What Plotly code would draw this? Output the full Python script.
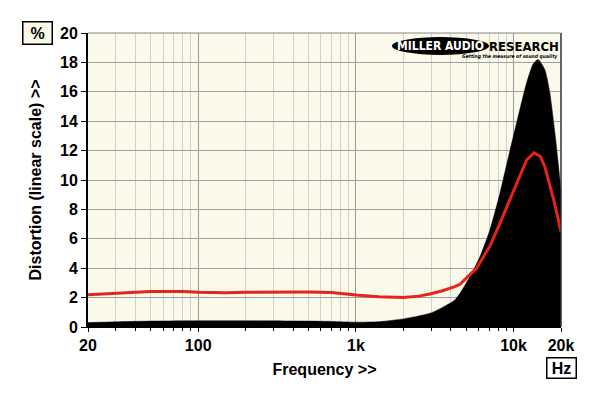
import plotly.graph_objects as go

# Data
freq_fill = [20, 30, 50, 100, 200, 500, 700, 1000, 1400, 2000, 2500, 2950, 3500, 4245,
             4570, 5285, 6122, 7080, 8200, 9490, 10970, 12100, 13330, 14300, 15800,
             17000, 18300, 20000]
dist_fill = [0.3, 0.35, 0.4, 0.42, 0.42, 0.4, 0.38, 0.33, 0.36, 0.55, 0.75, 0.93, 1.3, 1.84,
             2.29, 3.42, 4.78, 6.6, 9.1, 12.0, 14.8, 16.6, 17.9, 18.2, 17.5,
             15.9, 13.2, 9.3]

freq_red = [20, 30, 50, 80, 100, 150, 200, 500, 700, 1000, 1400, 2000, 2500, 2950, 3500,
            4245, 4570, 5830, 7080, 8200, 9490, 10970, 12100, 13500, 14800, 15800, 18000, 20000]
dist_red = [2.2, 2.3, 2.42, 2.42, 2.36, 2.33, 2.37, 2.38, 2.35, 2.18, 2.06, 2.0, 2.1, 2.24, 2.45,
            2.74, 2.9, 4.0, 5.5, 7.05, 8.64, 10.2, 11.36, 11.85, 11.6, 10.9, 8.64, 6.5]

x_major = [20, 100, 1000, 10000, 20000]
x_major_text = ["20", "100", "1k", "10k", "20k"]
x_minor = [30, 40, 50, 60, 70, 80, 90, 200, 300, 400, 500, 600, 700, 800, 900,
           2000, 3000, 4000, 5000, 6000, 7000, 8000, 9000]
y_ticks = [0, 2, 4, 6, 8, 10, 12, 14, 16, 18, 20]

FONT = "Liberation Sans, Arial, sans-serif"
LOGO_FONT = "DejaVu Sans Condensed, DejaVu Sans"
CREAM = "#fbf9e9"

# page body has an 8px margin: shift everything by -8 px
OFF = 8
L, R, T, B = 88 - OFF, 39, 33 - OFF, 69

fig = go.Figure()
fig.add_trace(go.Scatter(x=freq_fill, y=dist_fill, mode="lines", fill="tozeroy",
                         fillcolor="black", line=dict(color="black", width=0.5, shape="spline",
                                                      smoothing=0.6),
                         hoverinfo="skip", showlegend=False))
fig.add_trace(go.Scatter(x=freq_red, y=dist_red, mode="lines",
                         line=dict(color="#e8231a", width=3),
                         showlegend=False))

fig.update_layout(
    width=600 - OFF, height=396 - OFF,
    margin=dict(l=L, r=R, t=T, b=B, autoexpand=False),
    paper_bgcolor="white", plot_bgcolor=CREAM,
    font=dict(family=FONT, size=16, color="black"),
    xaxis=dict(type="log", range=[1.30103, 4.30103],
               tickvals=x_major, ticktext=x_major_text,
               tickfont=dict(family=FONT, size=16, color="black", weight="bold"),
               showgrid=True, gridcolor="#9a9a9a", gridwidth=1,
               ticks="outside", ticklen=4, tickcolor="black",
               minor=dict(tickvals=x_minor, showgrid=True, gridcolor="#d0d0cc",
                          ticks="outside", ticklen=3, tickcolor="black"),
               showline=True, linecolor="black", linewidth=1, mirror=False,
               zeroline=False, automargin=False,
               title=dict(text="<b>Frequency >></b>", font=dict(family=FONT, size=16),
                          standoff=10)),
    yaxis=dict(range=[0, 20], tickvals=y_ticks,
               tickfont=dict(family=FONT, size=16, color="black", weight="bold"),
               showgrid=True, gridcolor="#a0a0a0", gridwidth=1,
               ticks="outside", ticklen=5, tickcolor="black",
               showline=True, linecolor="black", linewidth=2, mirror=False,
               zeroline=False, automargin=False,
               title=dict(text="<b>Distortion (linear scale) >></b>",
                          font=dict(family=FONT, size=16), standoff=14)),
)

# right border and top border
fig.add_shape(type="line", xref="paper", yref="paper", x0=1, x1=1, y0=0, y1=1,
              line=dict(color="#333333", width=1.5))
fig.add_shape(type="line", xref="paper", yref="paper", x0=0, x1=1, y0=1, y1=1,
              line=dict(color="#888888", width=1))


def px(xp):
    return (xp - 88) / 473


def py(yp):
    return (327 - yp) / 294


# unit boxes
fig.add_annotation(xref="paper", yref="paper", x=px(37), y=py(33),
                   text="<b>%</b>", showarrow=False, bgcolor=CREAM, bordercolor="black",
                   borderwidth=1.5, borderpad=2, font=dict(family=FONT, size=16),
                   xanchor="center", yanchor="middle", width=24)
fig.add_annotation(xref="paper", yref="paper", x=px(561), y=py(368),
                   text="<b>Hz</b>", showarrow=False, bgcolor="white", bordercolor="black",
                   borderwidth=1.5, borderpad=1, font=dict(family=FONT, size=16),
                   xanchor="center", yanchor="middle", width=26)

# logo
fig.add_shape(type="circle", xref="paper", yref="paper",
              x0=px(392), x1=px(489), y0=py(55), y1=py(37),
              fillcolor="black", line=dict(color="black", width=0))
fig.add_annotation(xref="paper", yref="paper", x=px(440), y=py(46),
                   text="<b>MILLER AUDIO</b>", showarrow=False,
                   font=dict(family=LOGO_FONT, size=12, color="white"),
                   xanchor="center", yanchor="middle")
fig.add_annotation(xref="paper", yref="paper", x=px(524), y=py(46),
                   text="<b>RESEARCH</b>", showarrow=False,
                   font=dict(family=LOGO_FONT, size=13, color="black"),
                   xanchor="center", yanchor="middle")
fig.add_annotation(xref="paper", yref="paper", x=px(560), y=py(57),
                   text="<b><i>Getting the measure of sound quality</i></b>", showarrow=False,
                   font=dict(family=LOGO_FONT, size=5, color="black"),
                   xanchor="right", yanchor="middle")

fig.write_html("out.html")
